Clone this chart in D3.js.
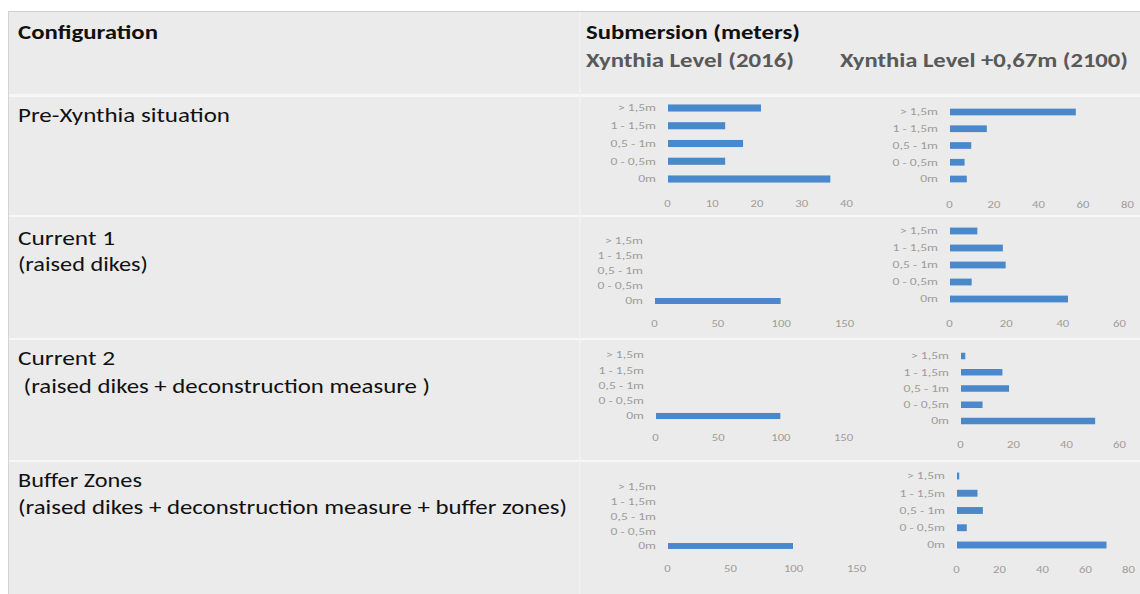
<!DOCTYPE html>
<html>
<head>
<meta charset="utf-8">
<script src="https://cdn.jsdelivr.net/npm/d3@7"></script>
<style>
  html, body { margin: 0; padding: 0; background: #ffffff; }
  svg { display: block; font-family: Carlito, Calibri, Lato, "Open Sans", sans-serif; }
</style>
</head>
<body>
<svg id="chart" width="1140" height="594"></svg>
<script>
// ---------------- DATA ----------------
const categories = ["> 1,5m", "1 - 1,5m", "0,5 - 1m", "0 - 0,5m", "0m"];

const configurationTitles = ["Pre-Xynthia situation", "Current 1", "Current 2", "Buffer Zones"];
const configurationDetails = ["", "(raised dikes)", " (raised dikes + deconstruction measure )",
  "(raised dikes + deconstruction measure + buffer zones)"];

// Xynthia Level (2016), values per category (same order as categories)
const preXynthia2016 = [21, 13, 17, 13, 36.5];
const current1_2016 = [0, 0, 0, 0, 100];
const current2_2016 = [0, 0, 0, 0, 100];
const bufferZones2016 = [0, 0, 0, 0, 100];

// Xynthia Level +0,67m (2100)
const preXynthia2100 = [57, 17, 10, 7, 8];
const current1_2100 = [10, 19, 20, 8, 42];
const current2_2100 = [2, 16, 18.5, 8.5, 51];
const bufferZones2100 = [1.5, 10, 12.5, 5, 70];

// axis tick labels
const ticks2016 = [[0, 10, 20, 30, 40], [0, 50, 100, 150], [0, 50, 100, 150], [0, 50, 100, 150]];
const ticks2100 = [[0, 20, 40, 60, 80], [0, 20, 40, 60], [0, 20, 40, 60], [0, 20, 40, 60, 80]];

const headerConfiguration = "Configuration";
const headerSubmersion = "Submersion (meters)";
const header2016 = "Xynthia Level (2016)";
const header2100 = "Xynthia Level +0,67m (2100)";

// ---------------- LAYOUT ----------------
const svg = d3.select("#chart");
const W = 1140, H = 594;
const BG = "#ebebeb";
const BAR = "#4a88cc";
const LABEL = "#a09c99";

// table background
svg.append("rect").attr("x", 8).attr("y", 11).attr("width", W - 8).attr("height", H - 11).attr("fill", BG);
svg.append("line").attr("x1", 8).attr("x2", W).attr("y1", 11.5).attr("y2", 11.5).attr("stroke", "#cfcfcf");
svg.append("line").attr("x1", 8.5).attr("x2", 8.5).attr("y1", 11).attr("y2", H).attr("stroke", "#d4d4d4");

// row separators
const sepY = [95, 216, 339, 461];
sepY.forEach((y, i) => {
  svg.append("rect").attr("x", 9).attr("y", y - 1).attr("width", W - 9).attr("height", i === 0 ? 3 : 2)
    .attr("fill", "#f7f7f7");
});
svg.append("rect").attr("x", 579).attr("y", 12).attr("width", 1.5).attr("height", H - 12).attr("fill", "#f2f2f2");

function fitText(sel, width) {
  sel.attr("textLength", width).attr("lengthAdjust", "spacingAndGlyphs");
  return sel;
}

// headers
fitText(svg.append("text").attr("x", 18).attr("y", 39).attr("font-size", 20).attr("font-weight", 700)
  .attr("fill", "#111").text(headerConfiguration), 140);
fitText(svg.append("text").attr("x", 586).attr("y", 39).attr("font-size", 20).attr("font-weight", 700)
  .attr("fill", "#111").text(headerSubmersion), 214);
fitText(svg.append("text").attr("x", 586).attr("y", 67).attr("font-size", 20).attr("font-weight", 700)
  .attr("fill", "#595959").text(header2016), 208);
fitText(svg.append("text").attr("x", 840).attr("y", 67).attr("font-size", 20).attr("font-weight", 700)
  .attr("fill", "#595959").text(header2100), 288);

// row labels
const rowText = [
  { title: [122, 212], detail: null },
  { title: [245, 97], detail: [18, 271, 130] },
  { title: [365, 97], detail: [18, 393, 412] },
  { title: [487, 124], detail: [18, 514, 549] }
];
rowText.forEach((r, i) => {
  fitText(svg.append("text").attr("x", 18).attr("y", r.title[0]).attr("font-size", 20.5)
    .attr("fill", "#111").text(configurationTitles[i]), r.title[1]);
  if (r.detail) {
    fitText(svg.append("text").attr("x", r.detail[0]).attr("y", r.detail[1]).attr("font-size", 20.5)
      .attr("fill", "#111").attr("xml:space", "preserve").text(configurationDetails[i]), r.detail[2]);
  }
});

// ---------------- PANELS ----------------
const values2016 = [preXynthia2016, current1_2016, current2_2016, bufferZones2016];
const values2100 = [preXynthia2100, current1_2100, current2_2100, bufferZones2100];

// pixel layout of each small chart
const panelLayout2016 = [
  { x0: 667, x1: 846, yTop: 108, yBot: 179, axisY: 204 },
  { x0: 654, x1: 844, yTop: 241, yBot: 301, axisY: 324 },
  { x0: 655, x1: 843, yTop: 355, yBot: 416, axisY: 438 },
  { x0: 667, x1: 856, yTop: 487, yBot: 546, axisY: 569 }
];
const panelLayout2100 = [
  { x0: 949, x1: 1127, yTop: 112, yBot: 179, axisY: 205 },
  { x0: 949, x1: 1119, yTop: 231, yBot: 299, axisY: 324 },
  { x0: 960, x1: 1119, yTop: 356, yBot: 421, axisY: 445 },
  { x0: 956, x1: 1128, yTop: 476, yBot: 545, axisY: 570 }
];

function stretch(sel, factor) {
  sel.each(function () {
    const w = this.getComputedTextLength();
    d3.select(this).attr("textLength", w * factor).attr("lengthAdjust", "spacingAndGlyphs");
  });
}

function drawPanel(values, tickVals, L) {
  const g = svg.append("g");
  const maxV = tickVals[tickVals.length - 1];
  const x = d3.scaleLinear().domain([0, maxV]).range([L.x0, L.x1]);
  const step = (L.yBot - L.yTop) / (categories.length - 1);
  const y = d3.scaleBand().domain(categories)
    .range([L.yTop - step / 2, L.yBot + step / 2]).paddingInner(0.6).paddingOuter(0.3);

  // category labels
  const yAxis = d3.axisLeft(y).tickSize(0).tickPadding(11);
  const yl = g.append("g").attr("transform", `translate(${L.x0},0)`).call(yAxis)
    .call(s => s.select(".domain").remove())
    .selectAll("text").attr("fill", LABEL).attr("font-size", 10.5)
    .attr("font-family", "Carlito, Calibri, Lato, sans-serif");
  stretch(yl, 1.3);

  // bars
  g.selectAll("rect.bar").data(categories.map((c, i) => ({ c, v: values[i] })))
    .join("rect").attr("class", "bar")
    .attr("x", x(0) + 1)
    .attr("y", d => y(d.c))
    .attr("width", d => Math.max(0, x(d.v) - x(0) - 1))
    .attr("height", y.bandwidth())
    .attr("fill", BAR);

  // value axis
  const xAxis = d3.axisBottom(x).tickValues(tickVals).tickSize(0).tickPadding(0);
  const xl = g.append("g").attr("transform", `translate(0,${L.axisY - 5})`).call(xAxis)
    .call(s => s.select(".domain").remove())
    .selectAll("text").attr("fill", LABEL).attr("font-size", 11)
    .attr("font-family", "Carlito, Calibri, Lato, sans-serif");
  stretch(xl, 1.15);
}

values2016.forEach((v, i) => drawPanel(v, ticks2016[i], panelLayout2016[i]));
values2100.forEach((v, i) => drawPanel(v, ticks2100[i], panelLayout2100[i]));
</script>
</body>
</html>
